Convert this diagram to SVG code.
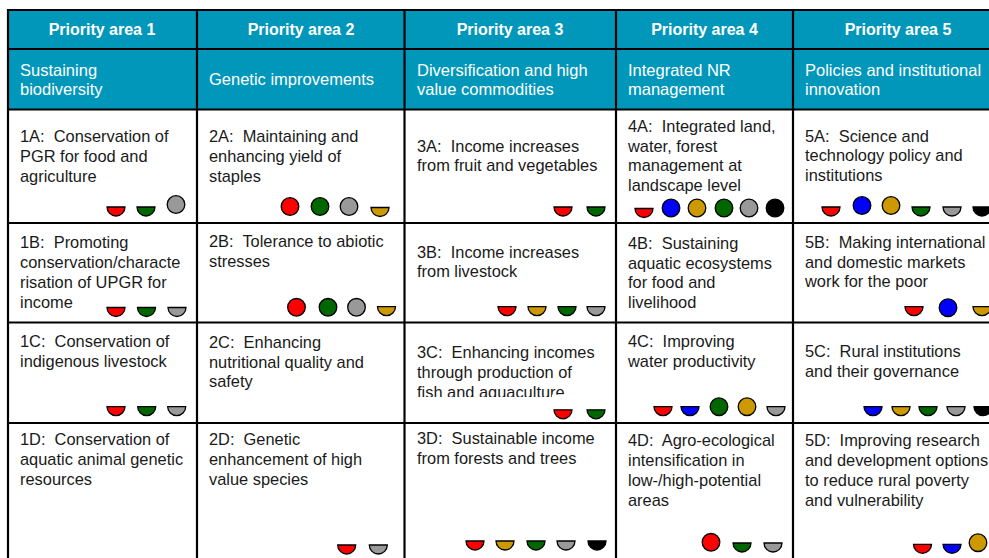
<svg xmlns="http://www.w3.org/2000/svg" width="989" height="558" viewBox="0 0 989 558">
<style>
text{font-family:"Liberation Sans",Arial,Helvetica,sans-serif}
.h{font-weight:bold;font-size:16px;fill:#fff;text-anchor:middle}
.s{font-size:16.5px;fill:#fff}
.t{font-size:16.4px;fill:#1a1a1a}
.m{stroke:#000;stroke-width:1.3}
.r{fill:#ff0000}.g{fill:#006600}.y{fill:#999999}.o{fill:#cc9900}.b{fill:#0000ff}.k{fill:#000000}
.grid line{stroke:#000;stroke-width:2.2}
</style>
<defs><path id="hc" d="M-9,0H9A9,9 0 0 1 -9,0Z"/></defs>
<rect width="989" height="558" fill="#fff"/>
<rect x="8" y="10" width="981" height="99.5" fill="#0197ba"/>

<g id="hdr1"><text class="h" x="102" y="35">Priority area 1</text></g>
<g id="hdr2"><text class="h" x="301" y="35">Priority area 2</text></g>
<g id="hdr3"><text class="h" x="510" y="35">Priority area 3</text></g>
<g id="hdr4"><text class="h" x="704.5" y="35">Priority area 4</text></g>
<g id="hdr5"><text class="h" x="898" y="35">Priority area 5</text></g>

<g id="sub1"><text class="s"><tspan x="20" y="76">Sustaining</tspan><tspan x="20" y="95">biodiversity</tspan></text></g>
<g id="sub2"><text class="s" x="209" y="85">Genetic improvements</text></g>
<g id="sub3"><text class="s"><tspan x="417" y="76">Diversification and high</tspan><tspan x="417" y="95">value commodities</tspan></text></g>
<g id="sub4"><text class="s"><tspan x="628" y="76">Integrated NR</tspan><tspan x="628" y="95">management</tspan></text></g>
<g id="sub5"><text class="s"><tspan x="805" y="76">Policies and institutional</tspan><tspan x="805" y="95">innovation</tspan></text></g>

<g id="c1A"><text class="t"><tspan x="20" y="141.7">1A:&#160; Conservation of</tspan><tspan x="20" y="161.7">PGR for food and</tspan><tspan x="20" y="181.7">agriculture</tspan></text>
<use href="#hc" x="116" y="207" class="m r"/><use href="#hc" x="146" y="207" class="m g"/><circle class="m y" cx="176" cy="204.5" r="8.8"/></g>
<g id="c2A"><text class="t"><tspan x="209" y="141.7">2A:&#160; Maintaining and</tspan><tspan x="209" y="161.7">enhancing yield of</tspan><tspan x="209" y="181.7">staples</tspan></text>
<circle class="m r" cx="290" cy="206.5" r="8.8"/><circle class="m g" cx="320" cy="206.5" r="8.8"/><circle class="m y" cx="349" cy="206.5" r="8.8"/><use href="#hc" x="380" y="207.5" class="m o"/></g>
<g id="c3A"><text class="t"><tspan x="417" y="151.5">3A:&#160; Income increases</tspan><tspan x="417" y="171">from fruit and vegetables</tspan></text>
<use href="#hc" x="563" y="207" class="m r"/><use href="#hc" x="596" y="207" class="m g"/></g>
<g id="c4A"><text class="t"><tspan x="628" y="131.7">4A:&#160; Integrated land,</tspan><tspan x="628" y="151.7">water, forest</tspan><tspan x="628" y="171">management at</tspan><tspan x="628" y="190.5">landscape level</tspan></text>
<use href="#hc" x="644" y="208.5" class="m r"/><circle class="m b" cx="671" cy="208" r="8.8"/><circle class="m o" cx="697" cy="208" r="8.8"/><circle class="m g" cx="724" cy="208" r="8.8"/><circle class="m y" cx="749" cy="208" r="8.8"/><circle class="m k" cx="775" cy="208" r="8.8"/></g>
<g id="c5A"><text class="t"><tspan x="805" y="141.7">5A:&#160; Science and</tspan><tspan x="805" y="161.2">technology policy and</tspan><tspan x="805" y="180.7">institutions</tspan></text>
<use href="#hc" x="831" y="207" class="m r"/><circle class="m b" cx="862" cy="205.5" r="8.8"/><circle class="m o" cx="891" cy="205.5" r="8.8"/><use href="#hc" x="921" y="207" class="m g"/><use href="#hc" x="952" y="207" class="m y"/><use href="#hc" x="982" y="207" class="m k"/></g>

<g id="c1B"><text class="t"><tspan x="20" y="248.3">1B:&#160; Promoting</tspan><tspan x="20" y="268.3">conservation/characte</tspan><tspan x="20" y="288.3">risation of UPGR for</tspan><tspan x="20" y="308.3">income</tspan></text>
<use href="#hc" x="116" y="307.5" class="m r"/><use href="#hc" x="146.5" y="307.5" class="m g"/><use href="#hc" x="177" y="307.5" class="m y"/></g>
<g id="c2B"><text class="t"><tspan x="209" y="246.7">2B:&#160; Tolerance to abiotic</tspan><tspan x="209" y="266.7">stresses</tspan></text>
<circle class="m r" cx="296.5" cy="307.3" r="8.8"/><circle class="m g" cx="328" cy="307.3" r="8.8"/><circle class="m y" cx="356.5" cy="307.3" r="8.8"/><use href="#hc" x="386.5" y="306.7" class="m o"/></g>
<g id="c3B"><text class="t"><tspan x="417" y="257.7">3B:&#160; Income increases</tspan><tspan x="417" y="277.3">from livestock</tspan></text>
<use href="#hc" x="507" y="306.7" class="m r"/><use href="#hc" x="537" y="306.7" class="m o"/><use href="#hc" x="567" y="306.7" class="m g"/><use href="#hc" x="596" y="306.7" class="m y"/></g>
<g id="c4B"><text class="t"><tspan x="628" y="249">4B:&#160; Sustaining</tspan><tspan x="628" y="269">aquatic ecosystems</tspan><tspan x="628" y="288.3">for food and</tspan><tspan x="628" y="308.3">livelihood</tspan></text></g>
<g id="c5B"><text class="t"><tspan x="805" y="247.7">5B:&#160; Making international</tspan><tspan x="805" y="267.7">and domestic markets</tspan><tspan x="805" y="286.7">work for the poor</tspan></text>
<use href="#hc" x="914" y="306.7" class="m r"/><circle class="m b" cx="948" cy="307.7" r="8.8"/><use href="#hc" x="982" y="306.7" class="m o"/></g>

<g id="c1C"><text class="t"><tspan x="20" y="346.7">1C:&#160; Conservation of</tspan><tspan x="20" y="366.7">indigenous livestock</tspan></text>
<use href="#hc" x="116" y="406.7" class="m r"/><use href="#hc" x="146.7" y="406.7" class="m g"/><use href="#hc" x="176.7" y="406.7" class="m y"/></g>
<g id="c2C"><text class="t"><tspan x="209" y="348.3">2C:&#160; Enhancing</tspan><tspan x="209" y="368.3">nutritional quality and</tspan><tspan x="209" y="387.3">safety</tspan></text></g>
<g id="c3C"><text class="t"><tspan x="417" y="358.3">3C:&#160; Enhancing incomes</tspan><tspan x="417" y="378.3">through production of</tspan><tspan x="417" y="398">fish and aquaculture</tspan></text>
<rect x="412" y="397" width="195" height="12" fill="#fff"/><rect x="552" y="394.6" width="24" height="14" fill="#fff"/>
<use href="#hc" x="563" y="409.8" class="m r"/><use href="#hc" x="596" y="409.8" class="m g"/></g>
<g id="c4C"><text class="t"><tspan x="628" y="346.7">4C:&#160; Improving</tspan><tspan x="628" y="366.7">water productivity</tspan></text>
<use href="#hc" x="663" y="406.7" class="m r"/><use href="#hc" x="690" y="406.7" class="m b"/><circle class="m g" cx="719" cy="406.7" r="8.8"/><circle class="m o" cx="747" cy="406.7" r="8.8"/><use href="#hc" x="776" y="406.7" class="m y"/></g>
<g id="c5C"><text class="t"><tspan x="805" y="357.3">5C:&#160; Rural institutions</tspan><tspan x="805" y="377.3">and their governance</tspan></text>
<use href="#hc" x="873" y="406.7" class="m b"/><use href="#hc" x="901" y="406.7" class="m o"/><use href="#hc" x="928" y="406.7" class="m g"/><use href="#hc" x="956" y="406.7" class="m y"/><use href="#hc" x="983" y="406.7" class="m k"/></g>

<g id="c1D"><text class="t"><tspan x="20" y="445">1D:&#160; Conservation of</tspan><tspan x="20" y="465">aquatic animal genetic</tspan><tspan x="20" y="485">resources</tspan></text></g>
<g id="c2D"><text class="t"><tspan x="209" y="445">2D:&#160; Genetic</tspan><tspan x="209" y="465">enhancement of high</tspan><tspan x="209" y="485">value species</tspan></text>
<use href="#hc" x="346.7" y="545" class="m r"/><use href="#hc" x="378.3" y="545" class="m y"/></g>
<g id="c3D"><text class="t"><tspan x="417" y="444.3">3D:&#160; Sustainable income</tspan><tspan x="417" y="464">from forests and trees</tspan></text>
<use href="#hc" x="475" y="541" class="m r"/><use href="#hc" x="505" y="541" class="m o"/><use href="#hc" x="536" y="541" class="m g"/><use href="#hc" x="566" y="541" class="m y"/><use href="#hc" x="597" y="541" class="m k"/></g>
<g id="c4D"><text class="t"><tspan x="628" y="446">4D:&#160; Agro-ecological</tspan><tspan x="628" y="466">intensification in</tspan><tspan x="628" y="485.7">low-/high-potential</tspan><tspan x="628" y="505.7">areas</tspan></text>
<circle class="m r" cx="711" cy="542.3" r="8.8"/><use href="#hc" x="742" y="543" class="m g"/><use href="#hc" x="773" y="543" class="m y"/></g>
<g id="c5D"><text class="t"><tspan x="805" y="446">5D:&#160; Improving research</tspan><tspan x="805" y="466">and development options</tspan><tspan x="805" y="486">to reduce rural poverty</tspan><tspan x="805" y="506">and vulnerability</tspan></text>
<use href="#hc" x="922.5" y="544.3" class="m r"/><use href="#hc" x="952" y="544.3" class="m b"/><circle class="m o" cx="978" cy="542.7" r="8.8"/></g>

<g id="grid" class="grid">
<line x1="7" y1="10" x2="989" y2="10"/>
<line x1="7" y1="49" x2="989" y2="49"/>
<line x1="7" y1="109.5" x2="989" y2="109.5"/>
<line x1="7" y1="223" x2="989" y2="223"/>
<line x1="7" y1="322.5" x2="989" y2="322.5"/>
<line x1="7" y1="423" x2="989" y2="423"/>
<line x1="8" y1="9" x2="8" y2="558"/>
<line x1="197" y1="9" x2="197" y2="558"/>
<line x1="404.5" y1="9" x2="404.5" y2="558"/>
<line x1="616" y1="9" x2="616" y2="558"/>
<line x1="793" y1="9" x2="793" y2="558"/>
</g>
</svg>
